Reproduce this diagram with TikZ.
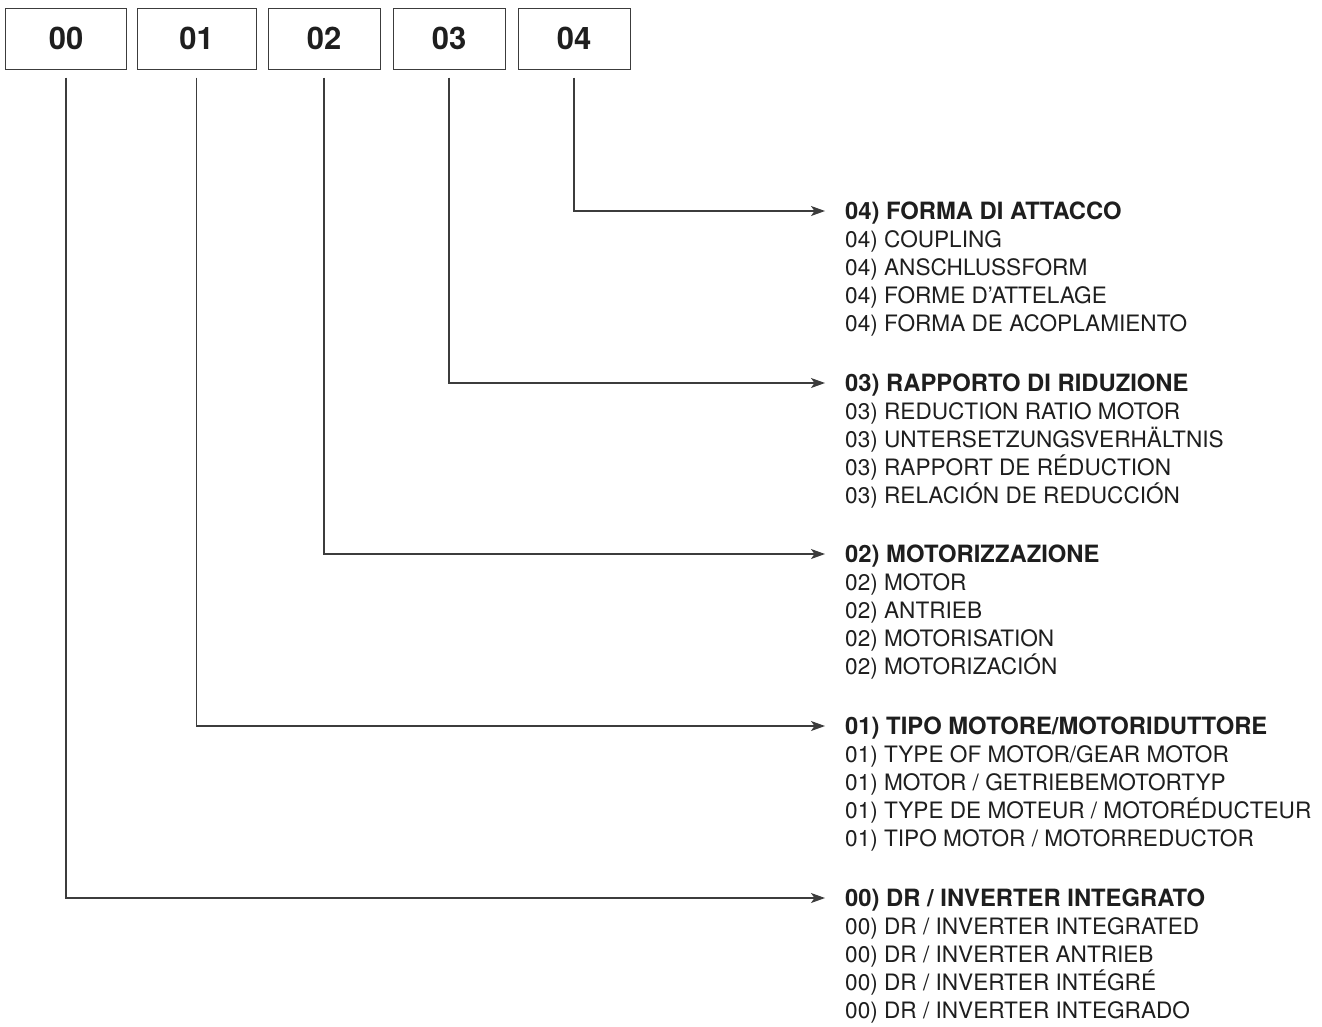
\documentclass[tikz,border=0pt]{standalone}
\usepackage{fontspec}
\setmainfont{TeX Gyre Heros}
\usetikzlibrary{arrows.meta,positioning}

\definecolor{inkline}{HTML}{3C3C3C}
\definecolor{inktext}{HTML}{1E1E1E}

\tikzset{
  codebox/.style={draw=inkline, line width=1bp, minimum height=61bp, inner sep=0pt,
    font=\fontsize{31bp}{31bp}\selectfont\bfseries, text=inktext},
  head/.style={anchor=west, inner sep=0pt, text height=17bp, text depth=0pt,
    font=\fontsize{23.8bp}{28bp}\selectfont\bfseries, text=inktext},
  sub/.style={anchor=base west, inner sep=0pt,
    font=\fontsize{22.6bp}{28bp}\selectfont, text=inktext},
  link/.style={draw=inkline, line width=1.2bp, -{Stealth[length=14bp,width=10bp,inset=3.5bp]}},
}

\begin{document}
\begin{tikzpicture}[x=1bp,y=-1bp,line join=miter]
  \useasboundingbox (0,0) rectangle (1322,1026);
  % code boxes
  \node[codebox, minimum width=120bp] (c00) at (66,38.5) {00};
  \node[codebox, minimum width=119bp] (c01) at (196.5,38.5) {01};
  \node[codebox, minimum width=112bp] (c02) at (324,38.5) {02};
  \node[codebox, minimum width=112bp] (c03) at (449,38.5) {03};
  \node[codebox, minimum width=112bp] (c04) at (574,38.5) {04};
  % 04
  \node[head] (h04) at (845,211) {04) FORMA DI ATTACCO};
  \foreach \txt [count=\i] in {04) COUPLING, 04) ANSCHLUSSFORM, 04) FORME D’ATTELAGE,
      04) FORMA DE ACOPLAMIENTO}
    \node[sub] (s04-\i) at (845,{219+28*\i}) {\txt};
  % 03
  \node[head] (h03) at (845,383) {03) RAPPORTO DI RIDUZIONE};
  \foreach \txt [count=\i] in {03) REDUCTION RATIO MOTOR, 03) UNTERSETZUNGSVERHÄLTNIS,
      03) RAPPORT DE RÉDUCTION, 03) RELACIÓN DE REDUCCIÓN}
    \node[sub] (s03-\i) at (845,{391+28*\i}) {\txt};
  % 02
  \node[head] (h02) at (845,554) {02) MOTORIZZAZIONE};
  \foreach \txt [count=\i] in {02) MOTOR, 02) ANTRIEB, 02) MOTORISATION, 02) MOTORIZACIÓN}
    \node[sub] (s02-\i) at (845,{562+28*\i}) {\txt};
  % 01
  \node[head] (h01) at (845,726) {01) TIPO MOTORE/MOTORIDUTTORE};
  \foreach \txt [count=\i] in {01) TYPE OF MOTOR/GEAR MOTOR, 01) MOTOR / GETRIEBEMOTORTYP,
      01) TYPE DE MOTEUR / MOTORÉDUCTEUR, 01) TIPO MOTOR / MOTORREDUCTOR}
    \node[sub] (s01-\i) at (845,{734+28*\i}) {\txt};
  % 00
  \node[head] (h00) at (845,898) {00) DR / INVERTER INTEGRATO};
  \foreach \txt [count=\i] in {00) DR / INVERTER INTEGRATED, 00) DR / INVERTER ANTRIEB,
      00) DR / INVERTER INTÉGRÉ, 00) DR / INVERTER INTEGRADO}
    \node[sub] (s00-\i) at (845,{906+28*\i}) {\txt};
  % connectors
  \foreach \k in {00,01,02,03,04}
    \draw[link] ([yshift=-8bp]c\k.south) |- ([xshift=-20bp]h\k.west);
\end{tikzpicture}
\end{document}
